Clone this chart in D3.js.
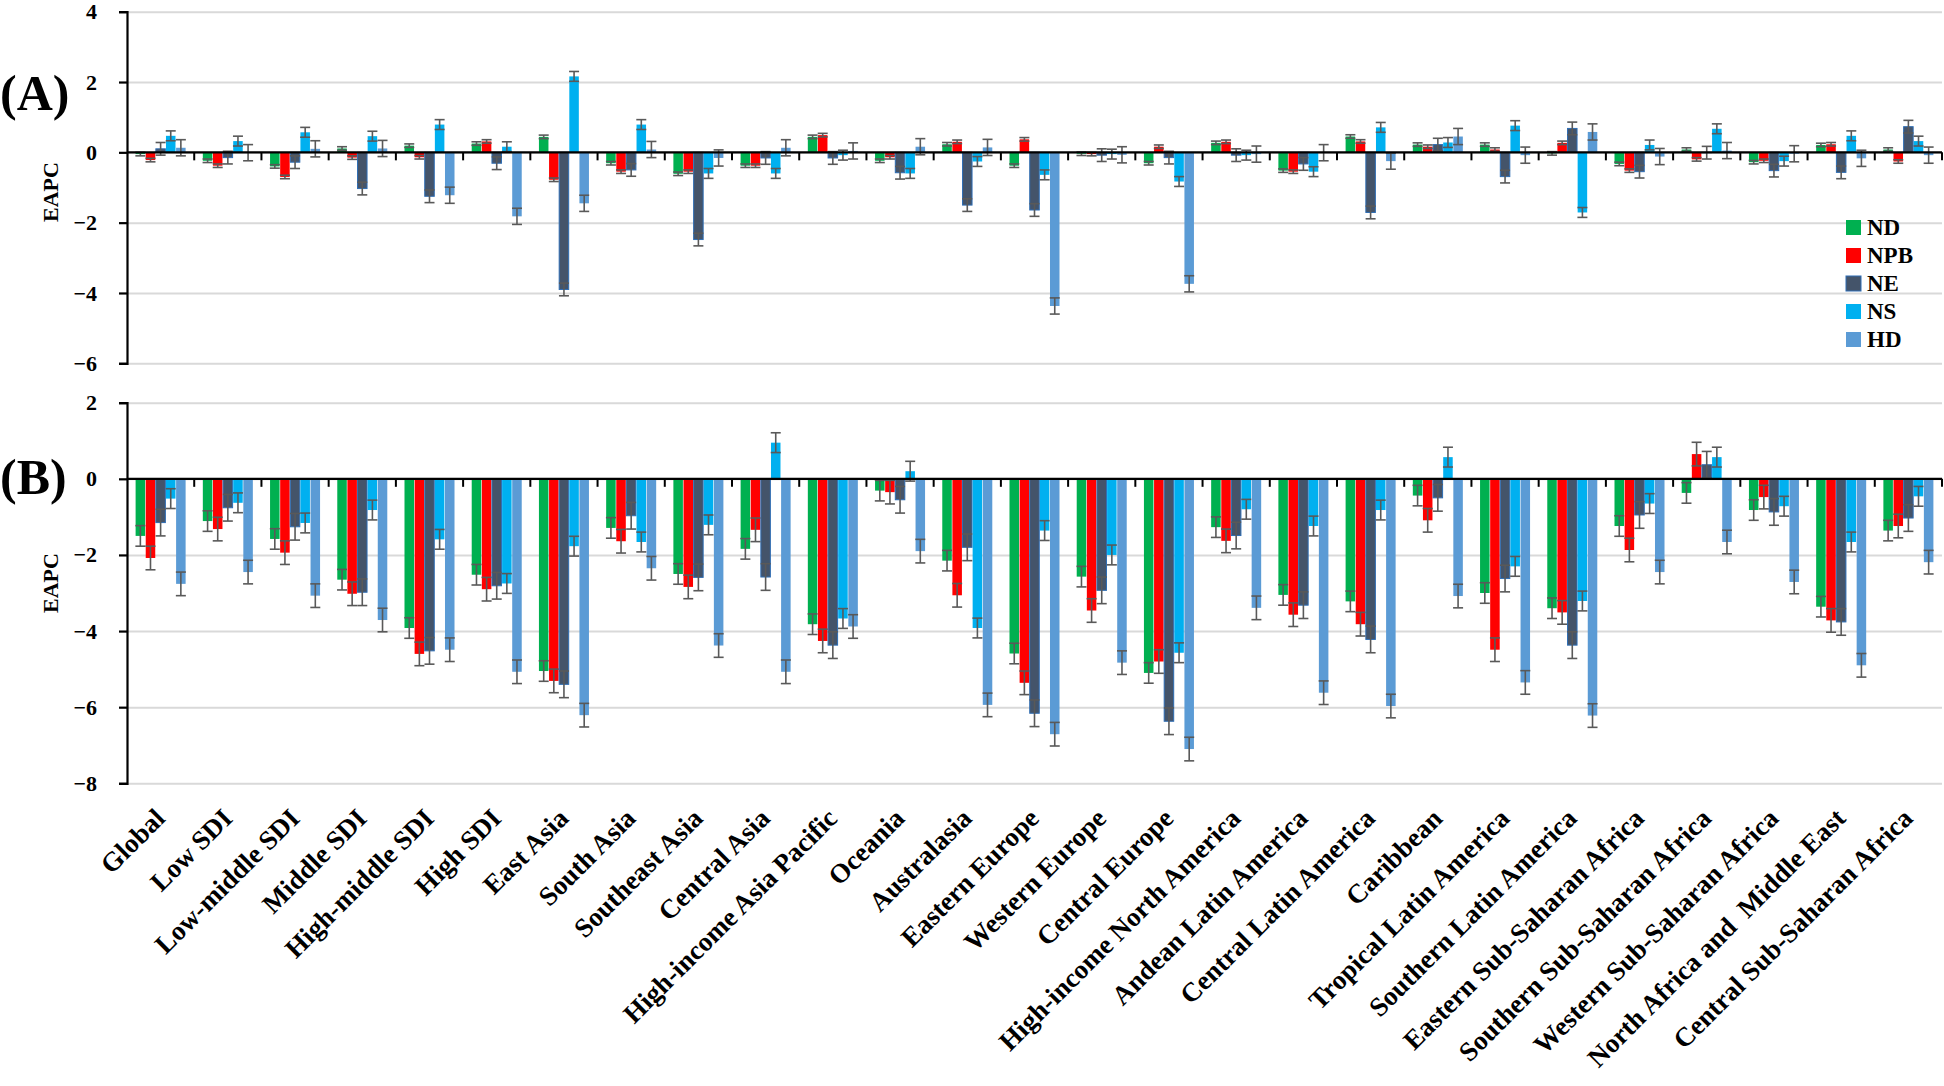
<!DOCTYPE html>
<html>
<head>
<meta charset="utf-8">
<script src="https://cdn.jsdelivr.net/npm/d3@7"></script>
<style>
body { margin: 0; background: #fff; }
text { font-family: "Liberation Serif", "Times New Roman", serif; font-weight: bold; fill: #000; }
</style>
</head>
<body>
<svg id="chart" width="1944" height="1086"></svg>
<script>
var categories = ["Global", "Low SDI", "Low-middle SDI", "Middle SDI", "High-middle SDI", "High SDI",
  "East Asia", "South Asia", "Southeast Asia", "Central Asia", "High-income Asia Pacific", "Oceania",
  "Australasia", "Eastern Europe", "Western Europe", "Central Europe", "High-income North America",
  "Andean Latin America", "Central Latin America", "Caribbean", "Tropical Latin America",
  "Southern Latin America", "Eastern Sub-Saharan Africa", "Southern Sub-Saharan Africa",
  "Western Sub-Saharan Africa", "North Africa and  Middle East", "Central Sub-Saharan Africa"];
var series = ["ND", "NPB", "NE", "NS", "HD"];
var colors = ["#00b050", "#ff0000", "#44546a", "#00b0f0", "#5b9bd5"];

// panel A values
var ndA  = [-0.05,-0.24,-0.4,0.11,0.19,0.25,0.44,-0.31,-0.61,-0.38,0.44,-0.24,0.23,-0.38,-0.04,-0.31,0.27,-0.52,0.45,0.22,0.22,-0.03,-0.33,0.08,-0.28,0.21,0.08];
var npbA = [-0.22,-0.38,-0.7,-0.15,-0.14,0.31,-0.78,-0.55,-0.55,-0.38,0.49,-0.14,0.3,0.37,-0.05,0.16,0.3,-0.55,0.31,0.16,0.08,0.27,-0.52,-0.2,-0.24,0.23,-0.26];
var neA  = [0.1,-0.15,-0.28,-1.03,-1.25,-0.31,-3.9,-0.5,-2.48,-0.16,-0.16,-0.58,-1.5,-1.64,-0.08,-0.15,-0.08,-0.33,-1.71,0.22,-0.69,0.68,-0.55,-0.01,-0.52,-0.57,0.73];
var nsA  = [0.47,0.32,0.57,0.46,0.79,0.16,2.16,0.79,-0.6,-0.6,-0.08,-0.6,-0.26,-0.64,-0.05,-0.83,-0.08,-0.55,0.71,0.28,0.76,-1.71,0.21,0.67,-0.25,0.47,0.32];
var hdA  = [0.13,-0.01,0.1,0.11,-1.22,-1.82,-1.45,0.08,-0.16,0.13,0.04,0.16,0.14,-4.37,-0.07,-3.74,-0.05,-0.01,-0.25,0.45,-0.08,0.58,-0.12,0.05,-0.04,-0.17,-0.08];
var errA = [0.05, 0.05, 0.18, 0.14, 0.23];

// panel B values
var ndB  = [-1.5,-1.11,-1.58,-2.65,-3.92,-2.52,-5.05,-1.29,-2.5,-1.84,-3.82,-0.31,-2.15,-4.59,-2.57,-5.1,-1.27,-3.05,-3.22,-0.44,-3.0,-3.4,-1.24,-0.37,-0.82,-3.36,-1.36];
var npbB = [-2.08,-1.32,-1.94,-3.02,-4.6,-2.9,-5.31,-1.64,-2.84,-1.34,-4.26,-0.35,-3.06,-5.36,-3.46,-4.8,-1.63,-3.57,-3.82,-1.09,-4.49,-3.51,-1.87,0.65,-0.48,-3.72,-1.24];
var neB  = [-1.15,-0.76,-1.26,-2.98,-4.52,-2.81,-5.4,-0.97,-2.59,-2.58,-4.37,-0.55,-1.8,-6.16,-2.93,-6.37,-1.49,-3.32,-4.22,-0.5,-2.62,-4.37,-0.95,0.37,-0.87,-3.76,-1.03];
var nsB  = [-0.52,-0.63,-1.16,-0.82,-1.59,-2.75,-1.77,-1.66,-1.21,0.95,-3.67,0.2,-3.92,-1.36,-2.0,-4.57,-0.8,-1.24,-0.82,0.57,-2.3,-3.21,-0.65,0.57,-0.72,-1.66,-0.46];
var hdB  = [-2.76,-2.45,-3.07,-3.71,-4.49,-5.07,-6.21,-2.35,-4.38,-5.07,-3.88,-1.9,-5.94,-6.71,-4.83,-7.1,-3.39,-5.62,-5.97,-3.08,-5.35,-6.22,-2.45,-1.66,-2.71,-4.9,-2.19];
var errB = [0.27, 0.31, 0.35, 0.26, 0.31];

var ticksA = [4, 2, 0, -2, -4, -6];
var ticksB = [2, 0, -2, -4, -6, -8];

var svg = d3.select("#chart");
var left = 127, right = 1942;

var x = d3.scaleBand().domain(categories).range([left, right]).padding(0);
var xs = d3.scaleBand().domain(series).range([0, x.bandwidth()]).paddingInner(0.06).paddingOuter(0.85);

function panel(opts) {
  var y = d3.scaleLinear().domain([opts.min, opts.max]).range([opts.bottom, opts.top]);
  var g = svg.append("g");

  // grid
  g.append("g").attr("transform", "translate(" + left + ",0)")
    .call(d3.axisLeft(y).tickValues(opts.ticks).tickSize(-(right - left)).tickFormat(""))
    .call(function(s){ s.select(".domain").remove(); s.selectAll("line").attr("stroke", "#d9d9d9").attr("stroke-width", 2); });

  var rows = categories.map(function(c, i){ return opts.data.map(function(arr){ return arr[i]; }); });

  var grp = g.selectAll("g.cat").data(rows).enter().append("g")
    .attr("class", "cat")
    .attr("transform", function(d, i){ return "translate(" + x(categories[i]) + ",0)"; });

  grp.selectAll("rect").data(function(d){ return d; }).enter().append("rect")
    .attr("x", function(d, j){ return xs(series[j]); })
    .attr("width", xs.bandwidth())
    .attr("y", function(d){ return y(Math.max(0, d)); })
    .attr("height", function(d){ return Math.abs(y(d) - y(0)); })
    .attr("fill", function(d, j){ return colors[j]; })
    .attr("stroke", function(d, j){ return j == 2 ? "#2e6db4" : "none"; })
    .attr("stroke-width", 1);

  // error bars
  var eb = grp.selectAll("g.err").data(function(d){ return d; }).enter().append("g").attr("class", "err")
    .attr("stroke", "#595959").attr("stroke-width", 1.6);
  var cx = function(d, j){ return xs(series[j]) + xs.bandwidth() / 2; };
  eb.append("line")
    .attr("x1", cx).attr("x2", cx)
    .attr("y1", function(d, j){ return y(d + opts.err[j]); })
    .attr("y2", function(d, j){ return y(d - opts.err[j]); });
  eb.append("line")
    .attr("x1", function(d, j){ return cx(d, j) - 5; }).attr("x2", function(d, j){ return cx(d, j) + 5; })
    .attr("y1", function(d, j){ return y(d + opts.err[j]); })
    .attr("y2", function(d, j){ return y(d + opts.err[j]); });
  eb.append("line")
    .attr("x1", function(d, j){ return cx(d, j) - 5; }).attr("x2", function(d, j){ return cx(d, j) + 5; })
    .attr("y1", function(d, j){ return y(d - opts.err[j]); })
    .attr("y2", function(d, j){ return y(d - opts.err[j]); });

  // zero line with category ticks
  g.append("line").attr("x1", left).attr("x2", right).attr("y1", y(0)).attr("y2", y(0))
    .attr("stroke", "#000").attr("stroke-width", 2.2);
  g.selectAll("line.ctick").data(categories.slice(1).concat(["__end"])).enter().append("line")
    .attr("class", "ctick")
    .attr("x1", function(d){ return d == "__end" ? right : x(d); })
    .attr("x2", function(d){ return d == "__end" ? right : x(d); })
    .attr("y1", y(0)).attr("y2", y(0) + 8)
    .attr("stroke", "#000").attr("stroke-width", 2);

  // y axis
  g.append("g").attr("transform", "translate(" + left + ",0)")
    .call(d3.axisLeft(y).tickValues(opts.ticks).tickSize(8).tickPadding(22).tickFormat(d3.format("d")))
    .call(function(s){
      s.attr("font-family", null);
      s.select(".domain").attr("stroke", "#000").attr("stroke-width", 2.2);
      s.selectAll("line").attr("stroke", "#000").attr("stroke-width", 2.2);
      s.selectAll("text").style("font-family", "'Liberation Serif', 'Times New Roman', serif")
        .style("font-size", "22px").style("font-weight", "bold").attr("fill", "#000");
    });

  g.append("text").attr("transform", "translate(" + 58 + "," + opts.labelY + ") rotate(-90)")
    .attr("text-anchor", "middle").style("font-size", "22px").text("EAPC");
  g.append("text").attr("x", 0).attr("y", opts.tagY).style("font-size", "50px").text(opts.tag);
  return y;
}

panel({ data: [ndA, npbA, neA, nsA, hdA], err: errA, min: -6, max: 4, top: 11.7, bottom: 363.3,
  ticks: ticksA, labelY: 192, tagY: 110, tag: "(A)" });
var yB = panel({ data: [ndB, npbB, neB, nsB, hdB], err: errB, min: -8, max: 2, top: 402.7, bottom: 783.3,
  ticks: ticksB, labelY: 583, tagY: 494, tag: "(B)" });

// legend
var lg = svg.append("g").attr("transform", "translate(1846,220)");
series.forEach(function(s, i){
  lg.append("rect").attr("x", 0).attr("y", i * 28).attr("width", 15).attr("height", 15).attr("fill", colors[i])
    .attr("stroke", i == 2 ? "#2e6db4" : "none");
  lg.append("text").attr("x", 21).attr("y", i * 28 + 15).style("font-size", "23px").text(s);
});

// category labels
svg.append("g").selectAll("text").data(categories).enter().append("text")
  .attr("transform", function(d){ return "translate(" + (x(d) + x.bandwidth() / 2 + 6) + "," + 820 + ") rotate(-45)"; })
  .attr("text-anchor", "end")
  .style("font-size", "27px")
  .style("white-space", "pre")
  .text(function(d){ return d; });
</script>
</body>
</html>
